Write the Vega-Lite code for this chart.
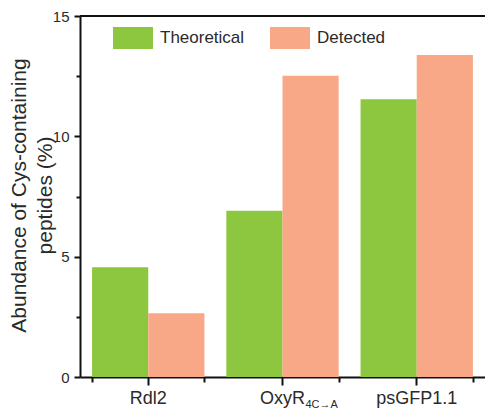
{
  "$schema": "https://vega.github.io/schema/vega-lite/v6.json",
  "autosize": {"type": "none"},
  "padding": {"left": 80, "top": 16, "right": 0, "bottom": 33},
  "width": 405,
  "height": 361,
  "background": "white",
  "config": {
    "view": {"stroke": null},
    "font": "Liberation Sans",
    "axis": {"labelColor": "#2a2a2a", "titleColor": "#2a2a2a", "domainColor": "#111", "tickColor": "#111", "grid": false}
  },
  "datasets": {
    "bars": [
      {"cat": "Rdl2", "series": "Theoretical", "value": 4.56},
      {"cat": "Rdl2", "series": "Detected", "value": 2.65},
      {"cat": "OxyR4C→A", "series": "Theoretical", "value": 6.91},
      {"cat": "OxyR4C→A", "series": "Detected", "value": 12.52},
      {"cat": "psGFP1.1", "series": "Theoretical", "value": 11.54},
      {"cat": "psGFP1.1", "series": "Detected", "value": 13.38}
    ],
    "subs": [{"cat": "OxyR4C→A", "sub": "4C→A"}],
    "frame": [{"top": 15}]
  },
  "layer": [
    {
      "data": {"name": "bars"},
      "mark": {"type": "bar"},
      "encoding": {
        "x": {
          "field": "cat", "type": "nominal", "sort": null,
          "scale": {"paddingInner": 0.163, "paddingOuter": 0.09},
          "axis": {
            "orient": "bottom", "title": null, "labelAngle": 0,
            "labelFontSize": 18, "labelPadding": 4, "tickSize": 8, "tickWidth": 2,
            "domainWidth": 2,
            "labelExpr": "datum.value == 'OxyR4C→A' ? 'OxyR' : datum.value"
          }
        },
        "xOffset": {"field": "series", "type": "nominal", "scale": {"domain": ["Theoretical", "Detected"]}},
        "y": {
          "field": "value", "type": "quantitative",
          "scale": {"domain": [0, 15], "nice": false},
          "axis": {
            "title": ["Abundance of Cys-containing", "peptides (%)"],
            "titleFontSize": 21, "titleFontWeight": "normal", "titleLineHeight": 26,
            "titleAngle": -90, "titleAlign": "center", "titleBaseline": "top",
            "titleX": -72, "titleY": 179,
            "values": [0, 2.5, 5, 7.5, 10, 12.5, 15],
            "labelExpr": "datum.value % 5 == 0 ? format(datum.value, 'd') : ''",
            "labelFontSize": 15, "labelPadding": 5,
            "tickSize": {"condition": {"test": "datum.value % 5 != 0", "value": 4}, "value": 6},
            "tickWidth": 2, "domainWidth": 2
          }
        },
        "color": {
          "field": "series", "type": "nominal",
          "scale": {"domain": ["Theoretical", "Detected"], "range": ["#8DC63F", "#F8A886"]},
          "legend": {
            "orient": "none", "legendX": 33, "legendY": 2, "direction": "horizontal", "title": null,
            "symbolType": "M-1,-0.55H1V0.55H-1Z", "symbolSize": 1600, "symbolStrokeWidth": 0,
            "labelFontSize": 17, "labelOffset": 7, "columnPadding": 25, "labelColor": "#2a2a2a",
            "symbolOpacity": 1
          }
        }
      }
    },
    {
      "data": {"name": "subs"},
      "mark": {"type": "text", "align": "left", "baseline": "alphabetic", "fontSize": 11, "dx": 23, "dy": 31, "color": "#2a2a2a"},
      "encoding": {
        "x": {
          "field": "cat", "type": "nominal", "sort": null,
          "axis": {"orient": "bottom", "title": null, "labels": false, "domain": false, "tickBand": "extent", "tickSize": 5, "tickWidth": 2}
        },
        "y": {"datum": 0, "type": "quantitative"},
        "text": {"field": "sub"}
      }
    },
    {
      "data": {"name": "frame"},
      "mark": {"type": "rule", "color": "#111", "strokeWidth": 2},
      "encoding": {
        "y": {"field": "top", "type": "quantitative"}
      }
    }
  ],
  "resolve": {"axis": {"x": "independent"}}
}
